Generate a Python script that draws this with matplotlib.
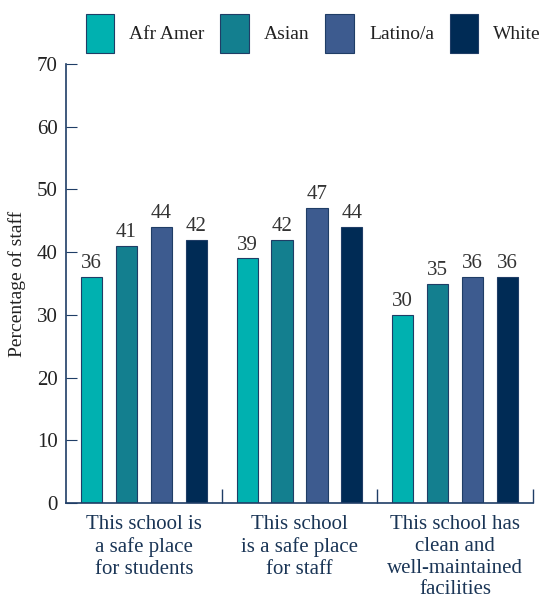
import matplotlib.pyplot as plt
import matplotlib.patches as mpatches
import numpy as np

plt.rcParams['font.family'] = ['Liberation Serif', 'DejaVu Serif']

categories = ["This school is\na safe place\nfor students",
              "This school\nis a safe place\nfor staff",
              "This school has\nclean and\nwell-maintained\nfacilities"]
groups = ["Afr Amer", "Asian", "Latino/a", "White"]
values = {
    "Afr Amer": [36, 39, 30],
    "Asian": [41, 42, 35],
    "Latino/a": [44, 47, 36],
    "White": [42, 44, 36],
}
colors = ["#00b1b0", "#137f8f", "#3d5b8f", "#002b55"]
navy = "#1f3d66"

fig = plt.figure(figsize=(5.45, 6.05), dpi=100)
ax = fig.add_axes([66/545, 102/605, 467/545, 439/605])

x = np.arange(len(categories)) + 0.5
step = 0.224
width = 0.136
handles = []
for i, g in enumerate(groups):
    pos = x + (i - 1.5) * step
    bars = ax.bar(pos, values[g], width, color=colors[i], edgecolor=navy, linewidth=0.8)
    for b, v in zip(bars, values[g]):
        ax.text(b.get_x() + b.get_width()/2, v + 0.6, str(v), ha='center', va='bottom',
                fontsize=15, color='#333333')
    handles.append(mpatches.Patch(facecolor=colors[i], edgecolor=navy, linewidth=0.8, label=g))

ax.set_xlim(0, 3)
ax.set_ylim(0, 70)
ax.set_yticks(range(0, 71, 10))
ax.tick_params(axis='y', direction='in', length=8, color=navy, labelsize=15, labelcolor='#222222', pad=6)
ax.set_xticks([1, 2, 3])
ax.set_xticklabels([])
ax.tick_params(axis='x', direction='in', length=10, color=navy, width=1)
for c, xc in zip(categories, x):
    ax.text(xc, -1.9, c, ha='center', va='top', fontsize=15, color='#1a3556', linespacing=1.2)

for s in ['top', 'right']:
    ax.spines[s].set_visible(False)
for s in ['left', 'bottom']:
    ax.spines[s].set_color(navy)
    ax.spines[s].set_linewidth(1.2)

ax.set_ylabel("Percentage of staff", fontsize=14, color='#222222', labelpad=8)

fig.legend(handles=handles, loc='upper center', bbox_to_anchor=(0.575, 1.0), ncol=4,
           frameon=False, fontsize=14, handlelength=1.45, handleheight=2.7,
           handletextpad=0.8, columnspacing=0.8, labelcolor='#222222',
           borderaxespad=0.3)

fig.savefig("out.png", dpi=100)
